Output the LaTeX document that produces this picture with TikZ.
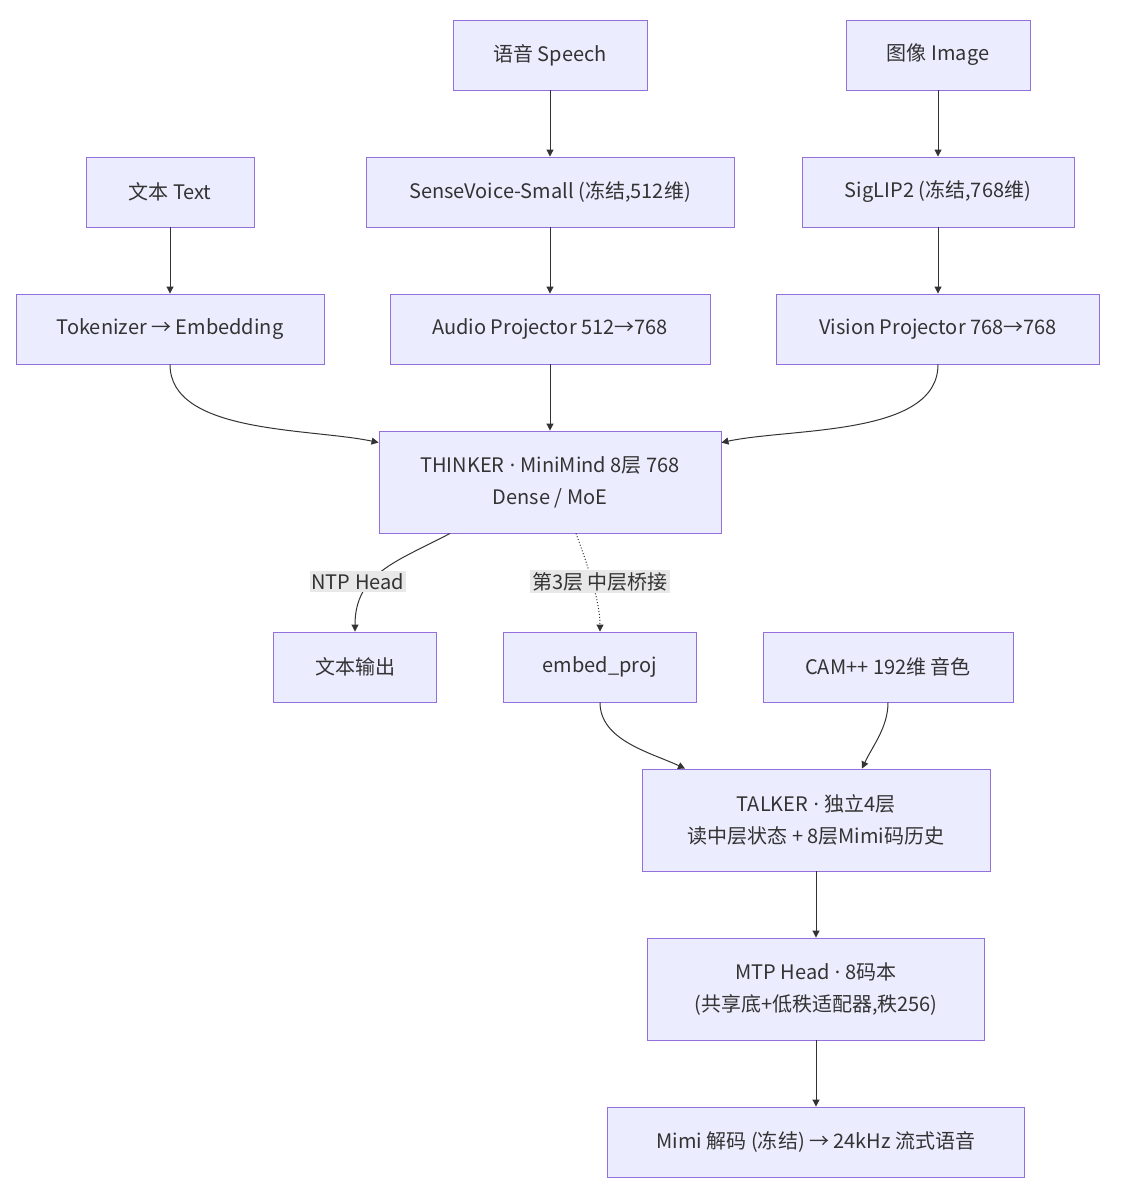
\documentclass[tikz,border=0pt]{standalone}
\usepackage{fontspec}
\setmainfont{Noto Sans CJK SC}
\newfontfamily\latinfont{Noto Sans}
\usepackage{tikz}
\usetikzlibrary{arrows.meta,positioning}
\definecolor{boxFill}{HTML}{ECECFF}
\definecolor{boxLine}{HTML}{9370DB}
\definecolor{ink}{HTML}{333333}
\definecolor{tagFill}{HTML}{E8E8E8}
\newcommand{\mdot}{{\latinfont\ ·\ }}

\begin{document}
\begin{tikzpicture}[x=1pt,y=-1pt,>={Triangle[length=7pt,width=7pt]},
  font=\fontsize{20}{32}\selectfont,text=ink,
  box/.style={draw=boxLine,fill=boxFill,line width=0.9pt,minimum height=70pt,align=center,inner sep=0pt},
  tall/.style={box,minimum height=102pt},
  link/.style={->,draw=ink,line width=1pt},
  tag/.style={fill=tagFill,inner sep=2pt,text=ink}]
\useasboundingbox (0,0) rectangle (1128,1196);
% --- inputs ---
\node[box,minimum width=194pt] (speech) at (550,55) {语音 Speech};
\node[box,minimum width=184pt] (image) at (938,55) {图像 Image};
\node[box,minimum width=168pt] (text) at (170,192) {文本 Text};
\node[box,minimum width=368pt] (sense) at (550,192) {SenseVoice-Small (冻结,512维)};
\node[box,minimum width=272pt] (siglip) at (938,192) {SigLIP2 (冻结,768维)};
% --- projectors ---
\node[box,minimum width=308pt] (tok) at (170,329) {Tokenizer → Embedding};
\node[box,minimum width=320pt] (aproj) at (550,329) {Audio Projector 512→768};
\node[box,minimum width=323pt] (vproj) at (938,329) {Vision Projector 768→768};
% --- thinker ---
\node[tall,minimum width=342pt] (think) at (550,482) {THINKER\mdot MiniMind 8层 768\\Dense / MoE};
\node[box,minimum width=163pt] (tout) at (355,667) {文本输出};
\node[box,minimum width=193pt] (embp) at (600,667) {embed\_proj};
\node[box,minimum width=250pt] (cam) at (888,667) {CAM++ 192维 音色};
% --- talker ---
\node[tall,minimum width=348pt] (talk) at (816,820) {TALKER\mdot 独立4层\\读中层状态 + 8层Mimi码历史};
\node[tall,minimum width=337pt] (mtp) at (816,989) {MTP Head\mdot 8码本\\(共享底+低秩适配器,秩256)};
\node[box,minimum width=417pt] (mimi) at (816,1142) {Mimi 解码 (冻结) → 24kHz 流式语音};

\draw[link] (speech) -- (sense);
\draw[link] (image) -- (siglip);
\draw[link] (text) -- (tok);
\draw[link] (sense) -- (aproj);
\draw[link] (siglip) -- (vproj);
\draw[link] (aproj) -- (think);
\draw[link] (tok.south) to[out=-90,in=168,looseness=0.8] ([yshift=-12pt]think.north west);
\draw[link] (vproj.south) to[out=-90,in=12,looseness=0.8] ([yshift=-12pt]think.north east);
\draw[link] ([xshift=-100pt]think.south) to[out=-152,in=90,looseness=1.1]
  node[tag,pos=0.62,xshift=-14pt] (ntp) {NTP Head} (tout.north);
\draw[link,dotted] ([xshift=26pt]think.south) to[out=-70,in=90,looseness=0.8]
  node[tag,pos=0.5,xshift=8pt] (bridge) {第3层 中层桥接} (embp.north);
\draw[link] (embp.south) to[out=-90,in=155,looseness=0.9] ([xshift=-131pt]talk.north);
\draw[link] (cam.south) to[out=-90,in=65,looseness=0.9] ([xshift=46pt]talk.north);
\draw[link] (talk) -- (mtp);
\draw[link] (mtp) -- (mimi);
\end{tikzpicture}
\end{document}
